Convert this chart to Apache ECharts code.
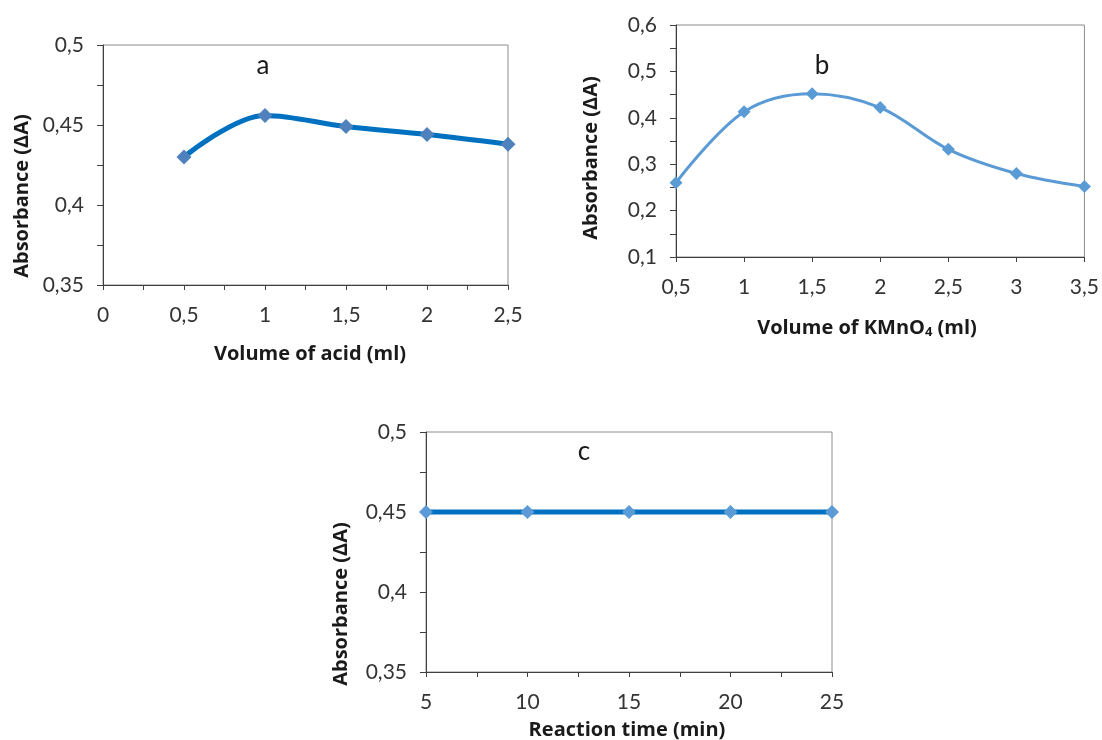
<!DOCTYPE html>
<html>
<head>
<meta charset="utf-8">
<script src="https://cdn.jsdelivr.net/npm/echarts@6/dist/echarts.min.js"></script>
<style>
  html, body { margin: 0; padding: 0; background: #fff; }
  #main { width: 1102px; height: 740px; }
</style>
</head>
<body>
<div id="main"></div>
<script>
// panel a: volume of acid
var acidVolume = [0.5, 1, 1.5, 2, 2.5];
var acidAbs = [0.43, 0.456, 0.449, 0.444, 0.438];
// panel b: volume of KMnO4
var kmno4Volume = [0.5, 1, 1.5, 2, 2.5, 3, 3.5];
var kmno4Abs = [0.26, 0.413, 0.452, 0.422, 0.332, 0.28, 0.252];
// panel c: reaction time
var reactionTime = [5, 10, 15, 20, 25];
var timeAbs = [0.45, 0.45, 0.45, 0.45, 0.45];

var FONT = 'Lato';
var TITLE_FONT = 'Open Sans';
var labelColor = '#333333';

function comma(v) {
    return String(parseFloat(v.toFixed(3))).replace('.', ',');
}
function pairs(xs, ys) {
    return xs.map(function (x, i) { return [x, ys[i]]; });
}

function xAxisOf(grid, min, max, interval, minor) {
    return {
        type: 'value', gridIndex: grid, min: min, max: max, interval: interval,
        axisLine: { show: true, lineStyle: { color: '#404040', width: 1 } },
        axisTick: { show: true, length: 5, lineStyle: { color: '#404040' } },
        minorTick: { show: minor, splitNumber: 2, length: 5, lineStyle: { color: '#404040' } },
        splitLine: { show: false },
        axisLabel: { formatter: comma, fontFamily: FONT, fontSize: 21, color: labelColor, margin: 20 }
    };
}
function yAxisOf(grid, min, max, interval) {
    return {
        type: 'value', gridIndex: grid, min: min, max: max, interval: interval,
        axisLine: { show: true, lineStyle: { color: '#404040', width: 1 } },
        axisTick: { show: true, length: 6, lineStyle: { color: '#404040' } },
        minorTick: { show: true, splitNumber: 2, length: 6, lineStyle: { color: '#404040' } },
        splitLine: { show: false },
        axisLabel: { formatter: comma, fontFamily: FONT, fontSize: 21, color: labelColor, margin: 19 }
    };
}

function titleText(x, y, text, rotate) {
    return {
        type: 'text', x: x, y: y, rotation: rotate ? Math.PI / 2 : 0,
        style: {
            text: text, fontFamily: TITLE_FONT, fontWeight: 'bold', fontSize: 20,
            fill: '#1a1a1a', align: 'center', verticalAlign: 'middle'
        }
    };
}
function panelLetter(x, y, text) {
    return {
        type: 'text', x: x, y: y,
        style: { text: text, fontFamily: FONT, fontSize: 26, fill: '#1a1a1a', align: 'center', verticalAlign: 'middle' }
    };
}

var myChart = echarts.init(document.getElementById('main'));

option = {
    animation: false,
    backgroundColor: '#fff',
    grid: [
        { left: 103, top: 45, width: 405, height: 240, show: true, borderColor: '#8c8c8c', borderWidth: 1 },
        { left: 676, top: 25, width: 410, height: 232, show: true, borderColor: '#8c8c8c', borderWidth: 1 },
        { left: 426, top: 432, width: 406, height: 240, show: true, borderColor: '#8c8c8c', borderWidth: 1 }
    ],
    xAxis: [
        xAxisOf(0, 0, 2.5, 0.5, true),
        xAxisOf(1, 0.5, 3.5, 0.5, false),
        xAxisOf(2, 5, 25, 5, true)
    ],
    yAxis: [
        yAxisOf(0, 0.35, 0.5, 0.05),
        yAxisOf(1, 0.1, 0.6, 0.1),
        yAxisOf(2, 0.35, 0.5, 0.05)
    ],
    graphic: [
        panelLetter(263, 66, 'a'),
        panelLetter(822, 66, 'b'),
        panelLetter(584, 452, 'c'),
        titleText(310, 354, 'Volume of acid (ml)', false),
        {
            type: 'text', x: 867, y: 328,
            style: {
                text: '{t|Volume of KMnO}{s|4}{t| (ml)}', align: 'center', verticalAlign: 'middle',
                rich: {
                    t: { fontFamily: TITLE_FONT, fontWeight: 'bold', fontSize: 20, fill: '#1a1a1a' },
                    s: { fontFamily: TITLE_FONT, fontWeight: 'bold', fontSize: 13, fill: '#1a1a1a', padding: [9, 0, 0, 0] }
                }
            }
        },
        titleText(627, 730, 'Reaction time (min)', false),
        titleText(22, 196, 'Absorbance (ΔA)', true),
        titleText(591, 158, 'Absorbance (ΔA)', true),
        titleText(341, 604, 'Absorbance (ΔA)', true)
    ],
    series: [
        {
            type: 'line', xAxisIndex: 0, yAxisIndex: 0,
            data: pairs(acidVolume, acidAbs),
            smooth: 0.35,
            symbol: 'diamond', symbolSize: 15,
            lineStyle: { color: '#0070C0', width: 5 },
            itemStyle: { color: '#4F81BD' }
        },
        {
            type: 'line', xAxisIndex: 1, yAxisIndex: 1,
            data: pairs(kmno4Volume, kmno4Abs),
            smooth: 0.35,
            symbol: 'diamond', symbolSize: 13,
            lineStyle: { color: '#5B9BD5', width: 3 },
            itemStyle: { color: '#5B9BD5' }
        },
        {
            type: 'line', xAxisIndex: 2, yAxisIndex: 2,
            data: pairs(reactionTime, timeAbs),
            smooth: 0.35,
            symbol: 'diamond', symbolSize: 14,
            lineStyle: { color: '#0070C0', width: 5 },
            itemStyle: { color: '#5B9BD5' }
        }
    ]
};

myChart.setOption(option);
</script>
</body>
</html>
